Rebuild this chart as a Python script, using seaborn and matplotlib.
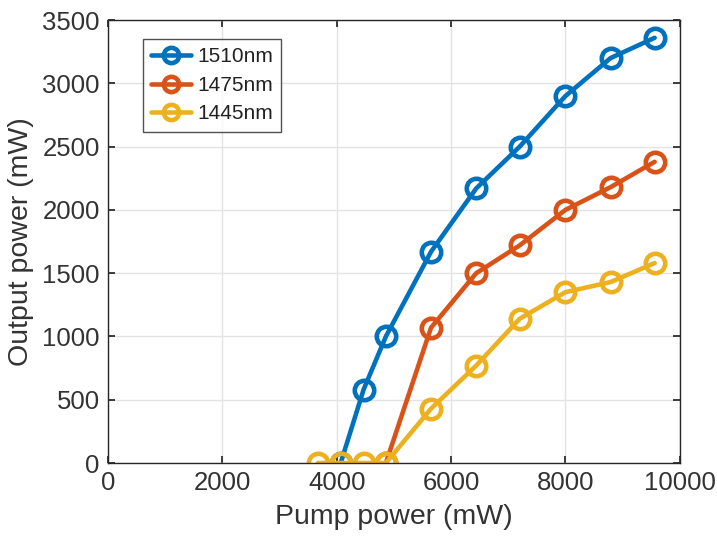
import matplotlib
matplotlib.use("Agg")
import matplotlib.pyplot as plt
import seaborn as sns
import pandas as pd

pump_1510 = [4070, 4470, 4860, 5650, 6440, 7200, 8000, 8790, 9560]
out_1510 = [0, 580, 1000, 1670, 2170, 2500, 2900, 3200, 3360]
pump_1475 = [4860, 5650, 6440, 7200, 8000, 8790, 9560]
out_1475 = [0, 1070, 1500, 1720, 2000, 2180, 2380]
pump_1445 = [3670, 4070, 4470, 4860, 5650, 6440, 7200, 8000, 8790, 9560]
out_1445 = [0, 0, 0, 0, 430, 770, 1140, 1350, 1430, 1580]
labels = ["1510nm", "1475nm", "1445nm"]
colors = ["#0072BD", "#D95319", "#EDB120"]

df = pd.concat([
    pd.DataFrame({"pump": pump_1510, "out": out_1510, "series": labels[0]}),
    pd.DataFrame({"pump": pump_1475, "out": out_1475, "series": labels[1]}),
    pd.DataFrame({"pump": pump_1445, "out": out_1445, "series": labels[2]}),
], ignore_index=True)

sns.set_theme(style="white")
plt.rcParams['font.family'] = ['Liberation Sans', 'DejaVu Sans']

fig = plt.figure(figsize=(7.17, 5.43), dpi=100)
ax = fig.add_axes([0.1506, 0.1473, 0.7975, 0.8157])

sns.lineplot(data=df, x="pump", y="out", hue="series", hue_order=labels,
             palette=colors, marker="o", markersize=14, markeredgewidth=3.3,
             markerfacecolor="none", linewidth=3.3, ax=ax, sort=False,
             estimator=None)
for line, c in zip(ax.lines, colors):
    line.set_markeredgecolor(c)
    line.set_markerfacecolor("none")

ax.set_xlim(0, 10000)
ax.set_ylim(0, 3500)
ax.set_xticks(range(0, 10001, 2000))
ax.set_yticks(range(0, 3501, 500))
ax.grid(True, color="#e3e3e3", linewidth=1)
ax.set_axisbelow(True)
for s in ax.spines.values():
    s.set_color("#262626")
    s.set_linewidth(1)
    s.set_visible(True)
ax.tick_params(direction="in", length=5, color="#262626", labelsize=18.5,
               labelcolor="#333333", top=True, right=True, bottom=True, left=True,
               pad=6)
ax.set_xlabel("Pump power (mW)", fontsize=20.5, color="#333333", labelpad=6)
ax.set_ylabel("Output power (mW)", fontsize=20.5, color="#333333", labelpad=6)

leg = ax.legend(loc="upper left", bbox_to_anchor=(0.061, 0.957), fontsize=15,
                frameon=True, fancybox=False, edgecolor="#262626",
                handlelength=1.9, borderpad=0.4, labelspacing=0.45,
                handletextpad=0.3, borderaxespad=0, labelcolor="#222222")
leg.get_frame().set_linewidth(1)
for h, c in zip(leg.get_lines(), colors):
    h.set_markerfacecolor("none")
    h.set_markeredgecolor(c)
    h.set_markersize(11)

fig.savefig("out.png", dpi=100)
